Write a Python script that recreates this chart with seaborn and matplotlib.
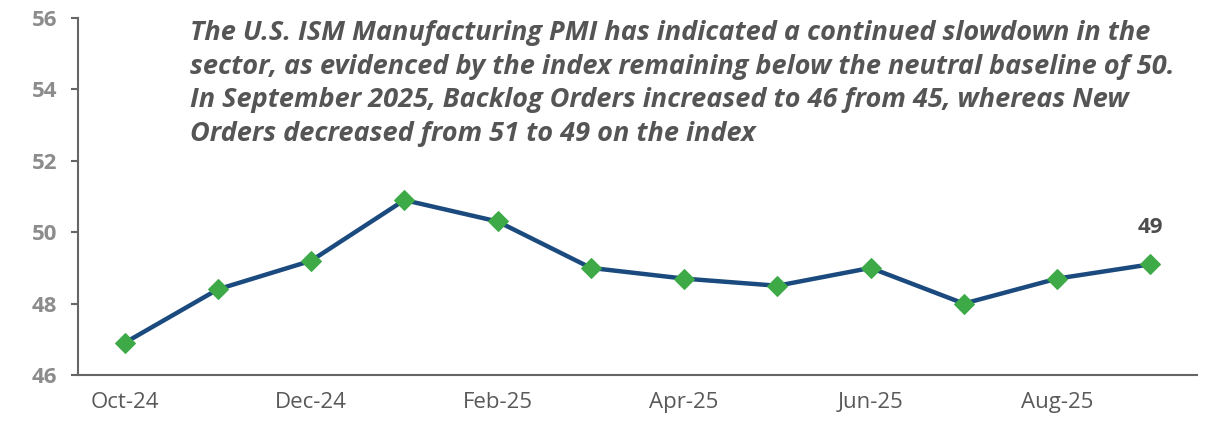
import matplotlib
matplotlib.use("Agg")
import matplotlib.pyplot as plt
import seaborn as sns
import pandas as pd

months = ["Oct-24", "Nov-24", "Dec-24", "Jan-25", "Feb-25", "Mar-25",
          "Apr-25", "May-25", "Jun-25", "Jul-25", "Aug-25", "Sep-25"]
pmi = [46.9, 48.4, 49.2, 50.9, 50.3, 49.0, 48.7, 48.5, 49.0, 48.0, 48.7, 49.1]
y_ticks = [46, 48, 50, 52, 54, 56]

NOTE = ("The U.S. ISM Manufacturing PMI has indicated a continued slowdown in the\n"
        "sector, as evidenced by the index remaining below the neutral baseline of 50.\n"
        "In September 2025, Backlog Orders increased to 46 from 45, whereas New\n"
        "Orders decreased from 51 to 49 on the index")

LINE_COLOR = "#1B4A7E"
MARKER_COLOR = "#3DAA47"
AXIS_COLOR = "#666666"

sns.set_theme(style="white")
plt.rcParams["font.family"] = ["Open Sans", "DejaVu Sans"]

df = pd.DataFrame({"pos": range(len(months)), "pmi": pmi})

fig = plt.figure(figsize=(12.11, 4.21), dpi=100)
ax = fig.add_axes([78 / 1211, 1 - 375 / 421, (1197 - 78) / 1211, (375 - 18) / 421])

sns.lineplot(data=df, x="pos", y="pmi", ax=ax, color=LINE_COLOR, linewidth=3.2,
             marker="D", markersize=10, markerfacecolor=MARKER_COLOR,
             markeredgecolor=MARKER_COLOR)

ax.set_xlim(-0.5, len(months) - 0.5)
ax.set_ylim(y_ticks[0], y_ticks[-1])
ax.set_yticks(y_ticks)
ax.set_yticklabels([str(t) for t in y_ticks], fontsize=16, fontweight="bold",
                   color="#8C8C8C")
ax.set_xticks(range(0, len(months), 2))
ax.set_xticklabels(months[::2], fontsize=16, color="#595959")
ax.set_xlabel("")
ax.set_ylabel("")

for side in ["top", "right"]:
    ax.spines[side].set_visible(False)
for side in ["left", "bottom"]:
    ax.spines[side].set_color(AXIS_COLOR)
    ax.spines[side].set_linewidth(1.5)
ax.tick_params(axis="y", length=5, width=1.5, color=AXIS_COLOR, pad=10, left=True)
ax.tick_params(axis="x", length=0, pad=12)

# last value label
ax.annotate(f"{pmi[-1]:.0f}", xy=(len(months) - 1, pmi[-1]), xytext=(0, 19),
            textcoords="offset points", ha="center", va="bottom",
            fontsize=16, fontweight="bold", color="#4D4D4D")

ax.text(190 / 1211, 1 - 20 / 421, NOTE, transform=fig.transFigure,
        ha="left", va="top", fontsize=19.5, fontweight="bold", fontstyle="italic",
        color="#555555", linespacing=1.38)

fig.savefig("out.png", dpi=100)
